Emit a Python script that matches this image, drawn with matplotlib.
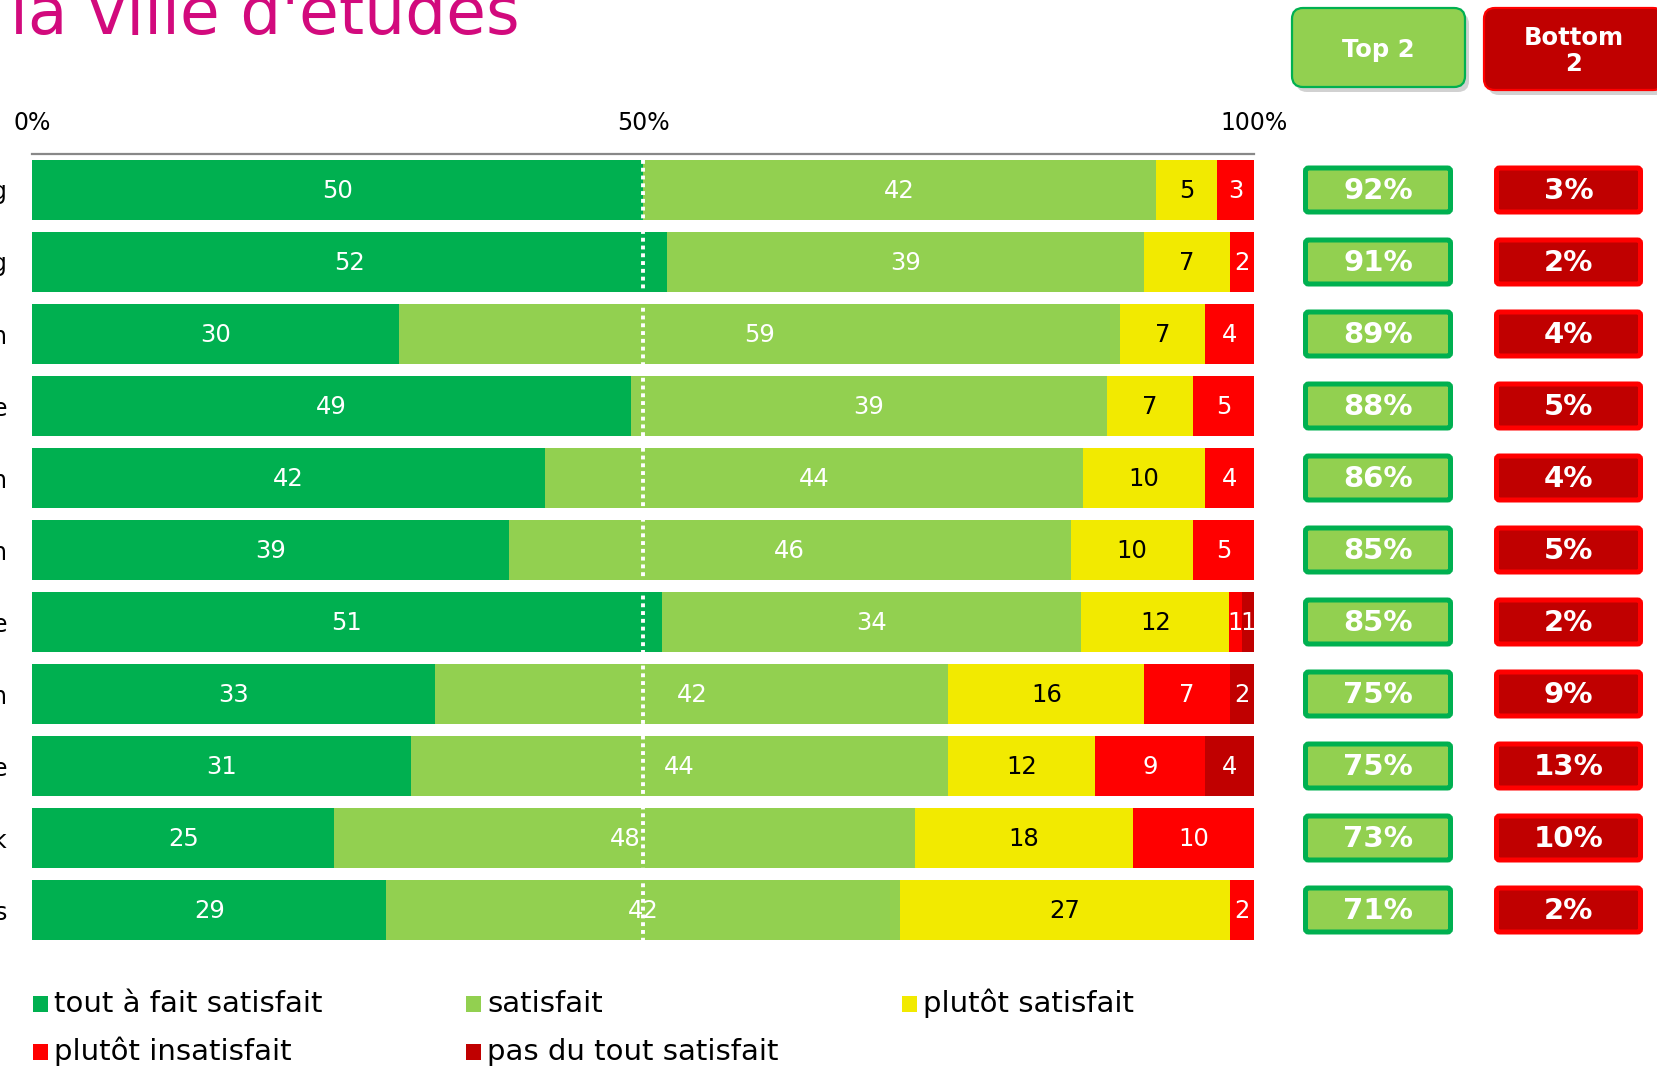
import matplotlib
matplotlib.use("Agg")
import matplotlib.pyplot as plt
from matplotlib.patches import FancyBboxPatch, Rectangle
import numpy as np

W, H = 1658, 1069

# row labels are cut off at the left edge of the slide, only the last letter shows
rows = ["g", "g", "n", "e", "n", "n", "e", "n", "e", "k", "s"]
tout_a_fait = [50, 52, 30, 49, 42, 39, 51, 33, 31, 25, 29]
satisfait = [42, 39, 59, 39, 44, 46, 34, 42, 44, 48, 42]
plutot_satisfait = [5, 7, 7, 7, 10, 10, 12, 16, 12, 18, 27]
plutot_insatisfait = [3, 2, 4, 5, 4, 5, 1, 7, 9, 10, 2]
pas_du_tout = [0, 0, 0, 0, 0, 0, 1, 2, 4, 0, 0]
top2 = [92, 91, 89, 88, 86, 85, 85, 75, 75, 73, 71]
bottom2 = [3, 2, 4, 5, 4, 5, 2, 9, 13, 10, 2]

categories = ["tout à fait satisfait", "satisfait", "plutôt satisfait",
              "plutôt insatisfait", "pas du tout satisfait"]
colors = ["#00B050", "#92D050", "#F2EA00", "#FF0000", "#C00000"]
text_colors = ["white", "white", "black", "white", "white"]

title = "la ville d'études"

# layout in pixels
ax_left, ax_right, ax_top, ax_bottom = 32, 1254, 154, 946
row_px = (ax_bottom - ax_top) / len(rows)

fig = plt.figure(figsize=(W / 100, H / 100), dpi=100)
ax = fig.add_axes([ax_left / W, 1 - ax_bottom / H,
                   (ax_right - ax_left) / W, (ax_bottom - ax_top) / H])

data = np.array([tout_a_fait, satisfait, plutot_satisfait,
                 plutot_insatisfait, pas_du_tout], dtype=float).T
shares = data / data.sum(axis=1, keepdims=True) * 100
y = np.arange(len(rows))
left = np.zeros(len(rows))
for k in range(len(categories)):
    ax.barh(y, shares[:, k], left=left, height=0.83, color=colors[k],
            edgecolor="none", zorder=2)
    for i in range(len(rows)):
        if data[i, k] > 0:
            ax.text(left[i] + shares[i, k] / 2, y[i] + 0.02, f"{int(data[i, k])}",
                    ha="center", va="center", fontsize=17.5,
                    color=text_colors[k], zorder=4)
    left += shares[:, k]

# white dotted 50% marker
ax.plot([50, 50], [-0.415, len(rows) - 0.585], color="white", lw=2.8,
        ls=(0, (1, 1)), zorder=5)

ax.set_xlim(0, 100)
ax.set_ylim(len(rows) - 0.5, -0.5)
ax.xaxis.tick_top()
ax.set_xticks([0, 50, 100])
ax.set_xticklabels(["0%", "50%", "100%"])
ax.set_yticks(y)
ax.set_yticklabels(rows)
ax.tick_params(axis="x", length=0, pad=14, labelsize=17)
ax.tick_params(axis="y", length=0, pad=18, labelsize=17)
for s in ["bottom", "left", "right"]:
    ax.spines[s].set_visible(False)
ax.spines["top"].set_color("#888888")
ax.spines["top"].set_linewidth(1.6)
ax.set_facecolor("none")

# overlay in pixel coordinates for title, boxes and legend
ov = fig.add_axes([0, 0, 1, 1])
ov.set_xlim(0, W)
ov.set_ylim(H, 0)
ov.axis("off")
ov.patch.set_visible(False)

ov.text(10, 34, title, color="#D20A7D", fontsize=46.5, ha="left", va="baseline")


def header(x0, x1, y0, y1, face, edge, label):
    shadow = FancyBboxPatch((x0 + 4, y0 + 5), x1 - x0, y1 - y0,
                            boxstyle="round,pad=0,rounding_size=11",
                            facecolor="#000000", alpha=0.18, edgecolor="none")
    ov.add_patch(shadow)
    box = FancyBboxPatch((x0, y0), x1 - x0, y1 - y0,
                         boxstyle="round,pad=0,rounding_size=11",
                         facecolor=face, edgecolor=edge, lw=1.6)
    ov.add_patch(box)
    ov.text((x0 + min(x1, 1664)) / 2, (y0 + y1) / 2 + 2, label, color="white",
            fontsize=17.5, fontweight="bold", ha="center", va="center",
            linespacing=1.15)


header(1292, 1465, 8, 87, "#92D050", "#00B050", "Top 2")
header(1484, 1664, 8, 90, "#C00000", "#FF0000", "Bottom\n2")

box_h = 44
for i in range(len(rows)):
    cy = ax_top + (i + 0.5) * row_px
    for (x0, x1, face, edge, val) in [(1305.5, 1450.5, "#92D050", "#00B050", top2[i]),
                                      (1496.5, 1640.5, "#C00000", "#FF0000", bottom2[i])]:
        b = FancyBboxPatch((x0, cy - box_h / 2), x1 - x0, box_h,
                           boxstyle="round,pad=0,rounding_size=3",
                           facecolor=face, edgecolor=edge, lw=3.6)
        ov.add_patch(b)
        ov.text((x0 + x1) / 2, cy + 1, f"{val}%", color="white", fontsize=21,
                fontweight="bold", ha="center", va="center")

# legend
leg_pos = [(33, 1012), (466, 1012), (902, 1012), (33, 1060), (466, 1060)]
for (lx, ly), cat, c in zip(leg_pos, categories, colors):
    ov.add_patch(Rectangle((lx, ly - 16), 15, 16, facecolor=c, edgecolor="none"))
    ov.text(lx + 21, ly, cat, fontsize=21, ha="left", va="baseline", color="black")

fig.savefig("out.png", dpi=100)
